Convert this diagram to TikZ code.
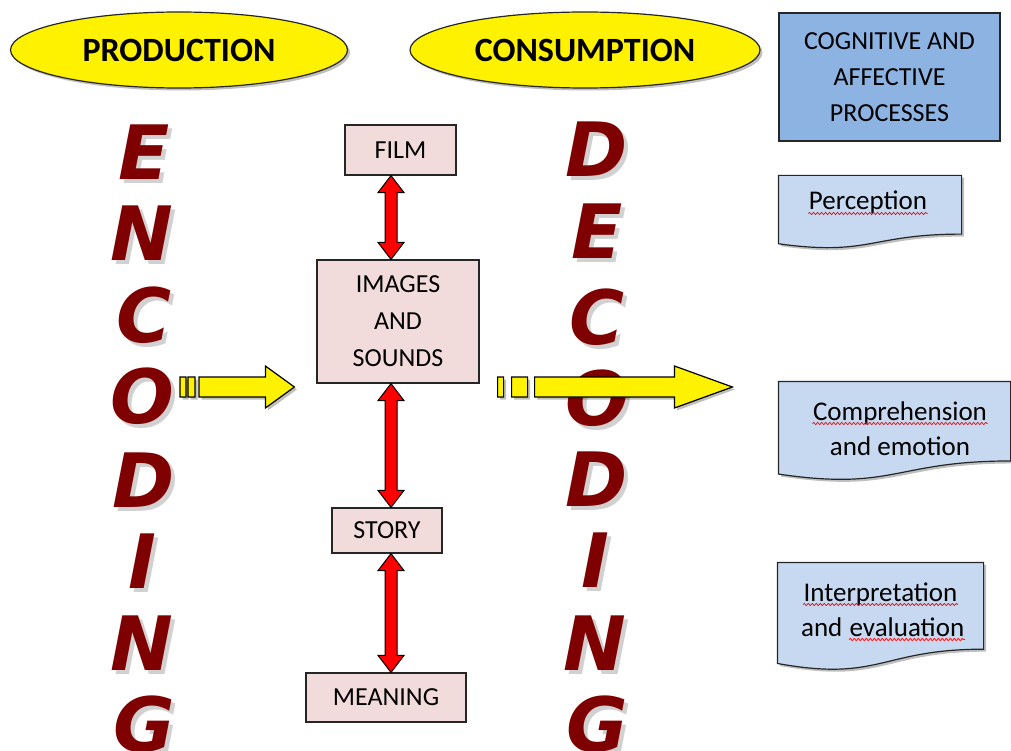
\documentclass[tikz,border=0pt]{standalone}
\usepackage{fontspec}
\setmainfont{Carlito}
\newfontfamily\letterfont{DejaVu Sans}
\usetikzlibrary{shapes.geometric,calc,shadows,decorations.pathmorphing}

\definecolor{boxpink}{HTML}{F2DCDB}
\definecolor{cogblue}{HTML}{8DB3E2}
\definecolor{docblue}{HTML}{C6D9F1}
\definecolor{lettred}{HTML}{7F0000}
\definecolor{edge}{HTML}{262626}

% big slanted letter with its grey shade
\newcommand\bigletter[3]{%
  \node[lettershade] at ($(#2)+(4,4)$) {#3};
  \node[bigchar] (#1) at (#2) {#3};}

% document shape round an empty node
\newcommand\docoutline[1]{%
  \draw[docline] (#1.north west) -- (#1.north east) -- ($(#1.north east)!0.802!(#1.south east)$)
    .. controls ($(#1.north)!0.802!(#1.south)$) and ($(#1.north)!1.107!(#1.south)$) .. ($(#1.north west)!0.934!(#1.south west)$) -- cycle;}

% red wavy line under a word node
\newcommand\spellwave[1]{%
  \draw[wavy] ($(#1.base west)+(0,3.5)$) -- ($(#1.base east)+(0,3.5)$);}

% red two-way block arrow between two stacked boxes
\newcommand\twoway[2]{%
  \draw[redblock] let \p1=(#1.south), \p2=(#2.north) in
    (391pt,\y1) -- (404pt,\y1-17pt) -- (397pt,\y1-17pt) -- (397pt,\y2+17pt) -- (404pt,\y2+17pt)
    -- (391pt,\y2) -- (378pt,\y2+17pt) -- (385pt,\y2+17pt) -- (385pt,\y1-17pt) -- (378pt,\y1-17pt) -- cycle;}

\begin{document}
\begin{tikzpicture}[x=1pt,y=-1pt,line width=1.2pt,
  shade/.style={drop shadow={shadow xshift=2.5pt,shadow yshift=-2.5pt,fill=black,opacity=.25}},
  stageell/.style={ellipse,draw=edge,fill=yellow,shade,inner sep=0,font=\bfseries\fontsize{34}{40}\selectfont},
  pinkbox/.style={draw=edge,fill=boxpink,inner sep=0,align=center,font=\fontsize{26}{37}\selectfont},
  cogbox/.style={draw=edge,line width=1.6pt,fill=cogblue,inner sep=0,align=center,font=\fontsize{26}{36}\selectfont},
  docline/.style={draw=edge,fill=docblue,shade},
  docword/.style={inner sep=0,anchor=base,font=\fontsize{27}{35}\selectfont},
  wavy/.style={draw=red,line width=.7pt,decorate,decoration={snake,amplitude=1.1pt,segment length=4pt}},
  bigchar/.style={inner sep=0,text=lettred,font=\letterfont\bfseries\itshape\fontsize{75}{75}\selectfont},
  lettershade/.style={bigchar,text=black!18},
  redblock/.style={draw=black,fill=red,line width=1pt},
  yellowblock/.style={draw=black,fill=yellow,line width=1.2pt,shade}]
\useasboundingbox (0,0) rectangle (1011,751);

\node[stageell,minimum width=337,minimum height=76] (prod) at (179,50) {PRODUCTION};
\node[stageell,minimum width=350,minimum height=76] (cons) at (585,50) {CONSUMPTION};
\node[cogbox,minimum width=221,minimum height=128] (cog) at (889.5,77) {COGNITIVE AND\\AFFECTIVE\\PROCESSES};

% ENCODING
\bigletter{e1}{144,152}{E}
\bigletter{e2}{142,233}{N}
\bigletter{e3}{144,315}{C}
\bigletter{e4}{142,396}{O}
\bigletter{e5}{144,480}{D}
\bigletter{e6}{142,561}{I}
\bigletter{e7}{142,643}{N}
\bigletter{e8}{144,724}{G}

% DECODING
\bigletter{d1}{597,149}{D}
\bigletter{d2}{597,231}{E}
\bigletter{d3}{597,317}{C}
\bigletter{d4}{597,398}{O}
\bigletter{d5}{597,479}{D}
\bigletter{d6}{595,560}{I}
\bigletter{d7}{595,643}{N}
\bigletter{d8}{597,724}{G}

\node[pinkbox,minimum width=111,minimum height=50] (film) at (400.5,150) {FILM};
\node[pinkbox,minimum width=162,minimum height=123] (images) at (398,321.5) {IMAGES\\AND\\SOUNDS};
\node[pinkbox,minimum width=110,minimum height=45] (story) at (387,530.5) {STORY};
\node[pinkbox,minimum width=160,minimum height=49] (meaning) at (386,697.5) {MEANING};

\twoway{film}{images}
\twoway{images}{story}
\twoway{story}{meaning}

% cognitive steps
\node[minimum width=182,minimum height=72,inner sep=0] (perc) at (870,212) {};
\docoutline{perc}
\node[docword] (percw) at ($(perc)+(-2,-2)$) {Perception};
\spellwave{percw}

\node[minimum width=231,minimum height=98,inner sep=0] (comp) at (894.5,431) {};
\docoutline{comp}
\node[docword] (compw) at ($(comp)+(5.5,-11)$) {Comprehension};
\node[docword] (compw2) at ($(comp)+(5.5,24)$) {and emotion};
\spellwave{compw}

\node[minimum width=205,minimum height=107,inner sep=0] (interp) at (880.5,616.5) {};
\docoutline{interp}
\node[docword] (interpw) at ($(interp)+(0,-15.5)$) {Interpretation};
\node[docword,anchor=base west] (andw) at ($(interp)+(-80,19.5)$) {and};
\node[docword,anchor=base west] (evalw) at ($(andw.base east)+(6,0)$) {evaluation};
\spellwave{interpw}
\spellwave{evalw}

% yellow arrows
\coordinate (inL) at (180,387);
\draw[yellowblock] let \p1=(inL), \p2=(images.west) in
  (\x1,\y1+10pt) rectangle (\x1+6pt,\y1-10pt)
  (\x1+8pt,\y1+10pt) rectangle (\x1+15pt,\y1-10pt)
  (\x1+19pt,\y1+10pt) -- (\x2-51pt,\y1+10pt) -- (\x2-51pt,\y1+21pt) -- (\x2-22pt,\y1)
  -- (\x2-51pt,\y1-21pt) -- (\x2-51pt,\y1-10pt) -- (\x1+19pt,\y1-10pt) -- cycle;
\draw[yellowblock] let \p1=(images.east), \p2=(comp.west), \p3=(inL) in
  (\x1+18pt,\y3+10pt) rectangle (\x1+24pt,\y3-10pt)
  (\x1+32pt,\y3+10pt) rectangle (\x1+48pt,\y3-10pt)
  (\x1+55pt,\y3+10pt) -- (\x2-104pt,\y3+10pt) -- (\x2-104pt,\y3+21pt) -- (\x2-46pt,\y3)
  -- (\x2-104pt,\y3-21pt) -- (\x2-104pt,\y3-10pt) -- (\x1+55pt,\y3-10pt) -- cycle;
\end{tikzpicture}
\end{document}
